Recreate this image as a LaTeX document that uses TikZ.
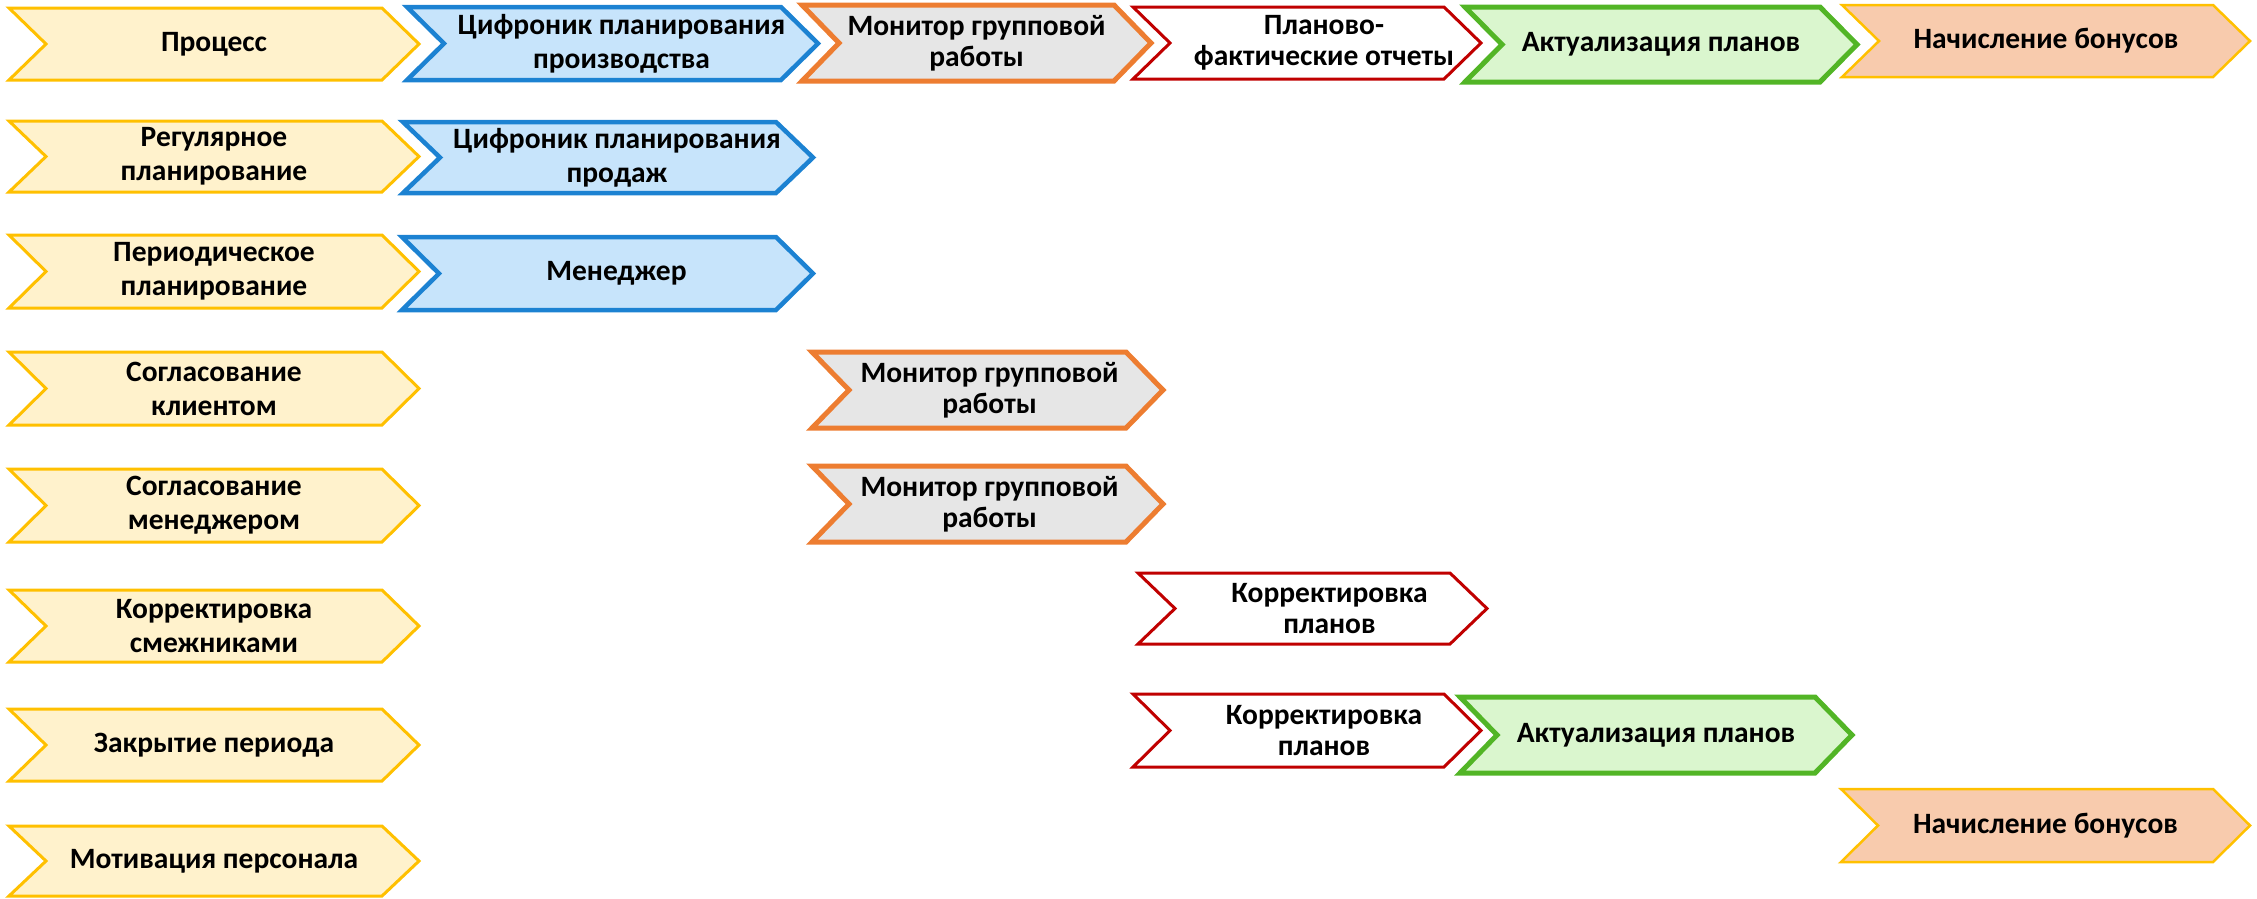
\documentclass[tikz,border=0pt]{standalone}
\usepackage{fontspec}
\setmainfont{Carlito}
\definecolor{ylwF}{HTML}{FFF2CC}
\definecolor{ylwD}{HTML}{FFC000}
\definecolor{bluF}{HTML}{C7E4FB}
\definecolor{bluD}{HTML}{1C82D2}
\definecolor{orgF}{HTML}{E6E6E6}
\definecolor{orgD}{HTML}{ED7D31}
\definecolor{redD}{HTML}{C00000}
\definecolor{grnF}{HTML}{DAF6CE}
\definecolor{grnD}{HTML}{52B526}
\definecolor{pchF}{HTML}{F8CBAD}
\tikzset{
  ylw/.style={fill=ylwF,draw=ylwD,line width=3pt},
  blu/.style={fill=bluF,draw=bluD,line width=4.5pt},
  org/.style={fill=orgF,draw=orgD,line width=5pt},
  rdd/.style={fill=white,draw=redD,line width=3pt},
  grn/.style={fill=grnF,draw=grnD,line width=5pt},
  pch/.style={fill=pchF,draw=ylwD,line width=2.5pt},
  lbl/.style={align=center,inner sep=0pt,font=\bfseries\fontsize{29.5}{34}\selectfont},
  lblt/.style={align=center,inner sep=0pt,font=\bfseries\fontsize{29.5}{31}\selectfont},
}
% #1 name, #2 style, #3 left x, #4 tip x, #5 top y, #6 bottom y, #7 text x offset, #8 label style, #9 text
\newcommand\chevshape[9]{%
  \path[#2,line join=miter] (#3,#5) -- ({#4-37},#5) -- (#4,{(#5+#6)/2}) -- ({#4-37},#6) -- (#3,#6) -- ({#3+37},{(#5+#6)/2}) -- cycle;
  \node[#8] (#1) at ({(#3+#4)/2+#7},{(#5+#6)/2}) {#9};
}
\begin{document}
\begin{tikzpicture}[x=1pt,y=-1pt]
\useasboundingbox (0,0) rectangle (2257,898);
% left column
\chevshape{y1}{ylw}{9}{419}{8}{80}{0}{lbl}{Процесс}
\chevshape{y2}{ylw}{9}{419}{121}{192}{0}{lbl}{Регулярное\\планирование}
\chevshape{y3}{ylw}{9}{419}{235}{308}{0}{lbl}{Периодическое\\планирование}
\chevshape{y4}{ylw}{9}{419}{352}{425}{0}{lbl}{Согласование\\клиентом}
\chevshape{y5}{ylw}{9}{419}{469}{542}{0}{lbl}{Согласование\\менеджером}
\chevshape{y6}{ylw}{9}{419}{590}{662}{0}{lbl}{Корректировка\\смежниками}
\chevshape{y7}{ylw}{9}{419}{709}{781}{0}{lbl}{Закрытие периода}
\chevshape{y8}{ylw}{9}{419}{826}{896}{0}{lbl}{Мотивация персонала}
% row 1
\chevshape{b1}{blu}{407}{818}{7}{80}{9}{lbl}{Цифроник планирования\\производства}
\chevshape{o1}{org}{802}{1151}{5}{81}{0}{lblt}{Монитор групповой\\работы}
\chevshape{r1}{rdd}{1133}{1481}{7}{79}{17}{lblt}{Планово-\\фактические отчеты}
\chevshape{g1}{grn}{1465}{1857}{7}{82}{0}{lbl}{Актуализация планов}
\chevshape{p1}{pch}{1842}{2250}{5}{77}{0}{lbl}{Начисление бонусов}
% row 2, 3
\chevshape{b2}{blu}{403}{813}{122}{193}{9}{lbl}{Цифроник планирования\\продаж}
\chevshape{b3}{blu}{402}{813}{237}{310}{9}{lbl}{Менеджер}
% row 4, 5
\chevshape{o4}{org}{812}{1163}{352}{428}{2}{lblt}{Монитор групповой\\работы}
\chevshape{o5}{org}{812}{1163}{466}{542}{2}{lblt}{Монитор групповой\\работы}
% row 6, 7
\chevshape{r6}{rdd}{1138}{1487}{573}{644}{17}{lblt}{Корректировка\\планов}
\chevshape{r7}{rdd}{1133}{1481}{694}{767}{17}{lblt}{Корректировка\\планов}
\chevshape{g7}{grn}{1460}{1852}{697}{773}{0}{lbl}{Актуализация планов}
% row 8
\chevshape{p8}{pch}{1841}{2250}{789}{862}{0}{lbl}{Начисление бонусов}
\end{tikzpicture}
\end{document}
